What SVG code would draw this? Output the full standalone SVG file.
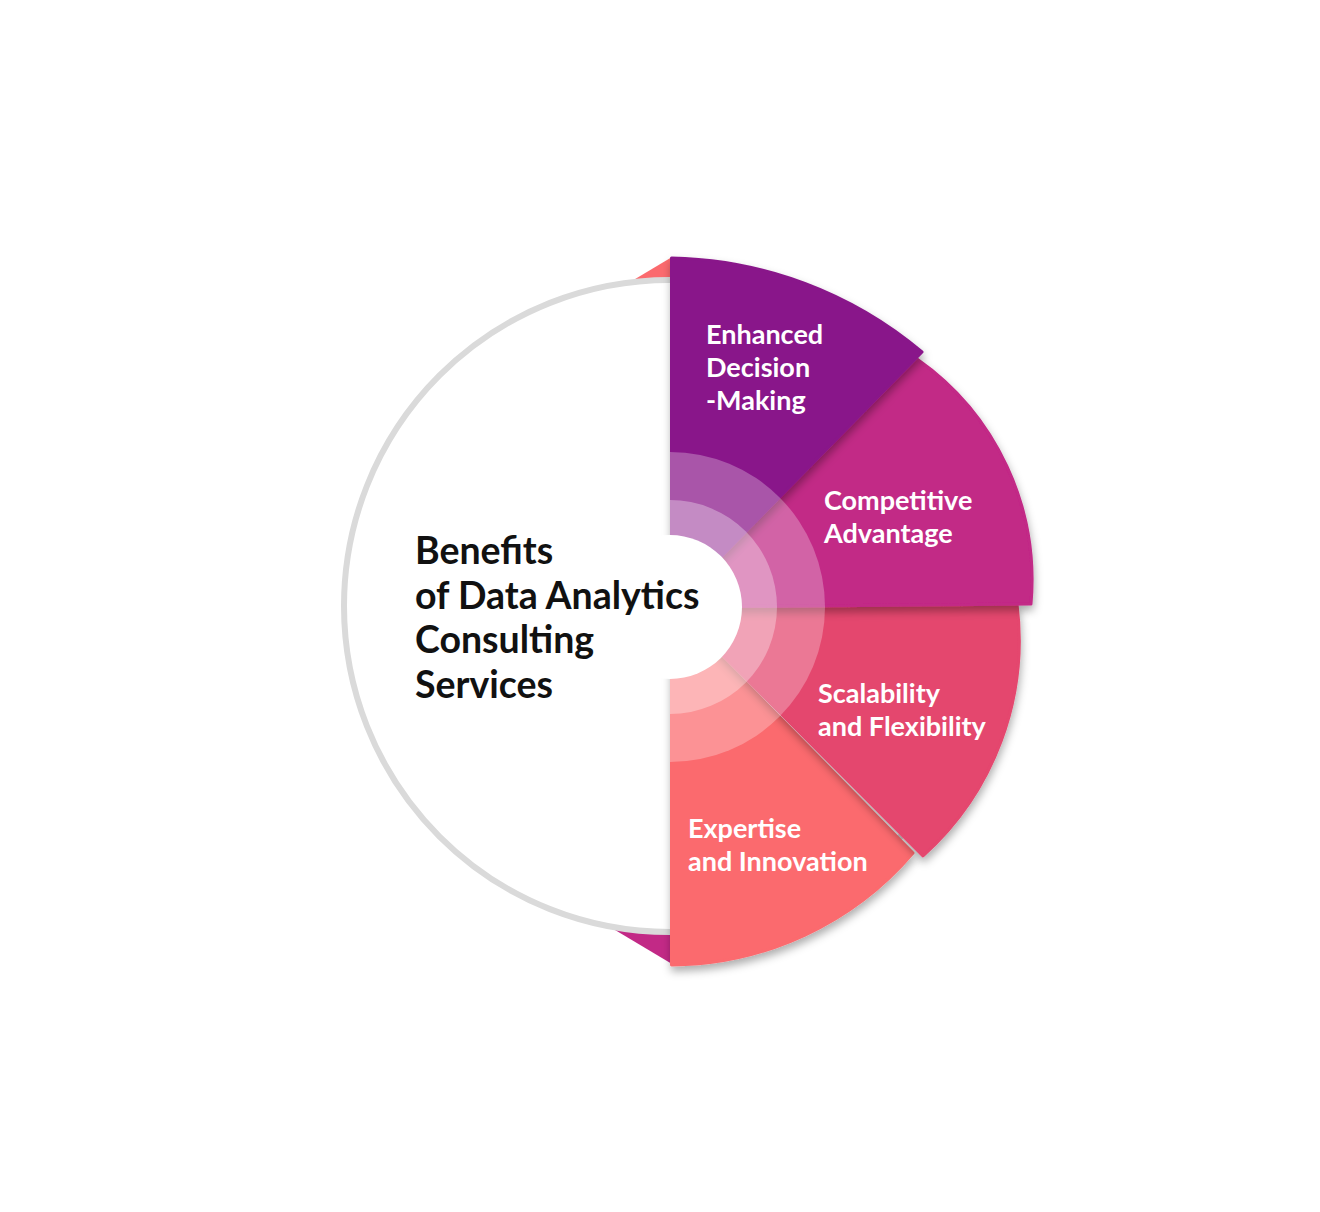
<svg xmlns="http://www.w3.org/2000/svg" width="1320" height="1212" viewBox="0 0 1320 1212">
  <defs>
    <filter id="sh" x="-20%" y="-20%" width="140%" height="140%">
      <feDropShadow dx="1" dy="5" stdDeviation="4.5" flood-color="#000" flood-opacity="0.32"/>
    </filter>
    <style>
      .lbl { font-family: Lato, "Open Sans", "Liberation Sans", sans-serif; font-weight: 700; font-size: 27px; fill: #ffffff; }
      .title { font-family: Lato, "Open Sans", "Liberation Sans", sans-serif; font-weight: 700; font-size: 37.5px; fill: #111111; }
      .wedge { filter: url(#sh); stroke-linejoin: round; stroke-width: 3; }
    </style>
  </defs>
  <rect width="1320" height="1212" fill="#ffffff"/>

  <!-- fold triangles behind circle -->
  <polygon points="600,300 672,257 672,300" fill="#FB6A6E"/>
  <polygon points="600,921 672,964 672,900" fill="#C22986"/>

  <!-- center circle -->
  <g id="center">
    <circle cx="670" cy="606" r="326" fill="#ffffff" stroke="#DADADA" stroke-width="6"/>
  </g>

  <g id="expertise">
    <path class="wedge" d="M671.5,607 L913,853 A320,320 0 0,1 671.5,965 Z" fill="#FB6A6E" stroke="#FB6A6E"/>
  </g>
  <g id="scalability">
    <path class="wedge" d="M671.5,604 L1017,604 A290,290 0 0,1 923,856 Z" fill="#E4466E" stroke="#E4466E"/>
  </g>
  <g id="competitive">
    <path class="wedge" d="M671.5,607 L917,359 A270,270 0 0,1 1031,604 Z" fill="#C22986" stroke="#C22986"/>
  </g>
  <g id="enhanced">
    <path class="wedge" d="M671.5,607 L671.5,258 A400,400 0 0,1 922,352 Z" fill="#89188A" stroke="#89188A"/>
  </g>

  <!-- translucent rings -->
  <path d="M670,452 A155,155 0 0,1 670,762 Z" fill="#ffffff" fill-opacity="0.27"/>
  <path d="M670,500 A107,107 0 0,1 670,714 Z" fill="#ffffff" fill-opacity="0.32"/>
  <circle cx="670" cy="607" r="72" fill="#ffffff"/>

  <g id="connectors"/>

  <g id="labels">
    <text class="title" x="415" y="564">Benefits</text>
    <text class="title" x="415" y="609">of Data Analytics</text>
    <text class="title" x="415" y="653">Consulting</text>
    <text class="title" x="415" y="698">Services</text>

    <text class="lbl" x="706" y="344">Enhanced</text>
    <text class="lbl" x="706" y="377">Decision</text>
    <text class="lbl" x="706" y="410">-Making</text>

    <text class="lbl" x="824" y="510">Competitive</text>
    <text class="lbl" x="824" y="543">Advantage</text>

    <text class="lbl" x="818" y="703">Scalability</text>
    <text class="lbl" x="818" y="736">and Flexibility</text>

    <text class="lbl" x="688" y="838">Expertise</text>
    <text class="lbl" x="688" y="871">and Innovation</text>
  </g>
</svg>
